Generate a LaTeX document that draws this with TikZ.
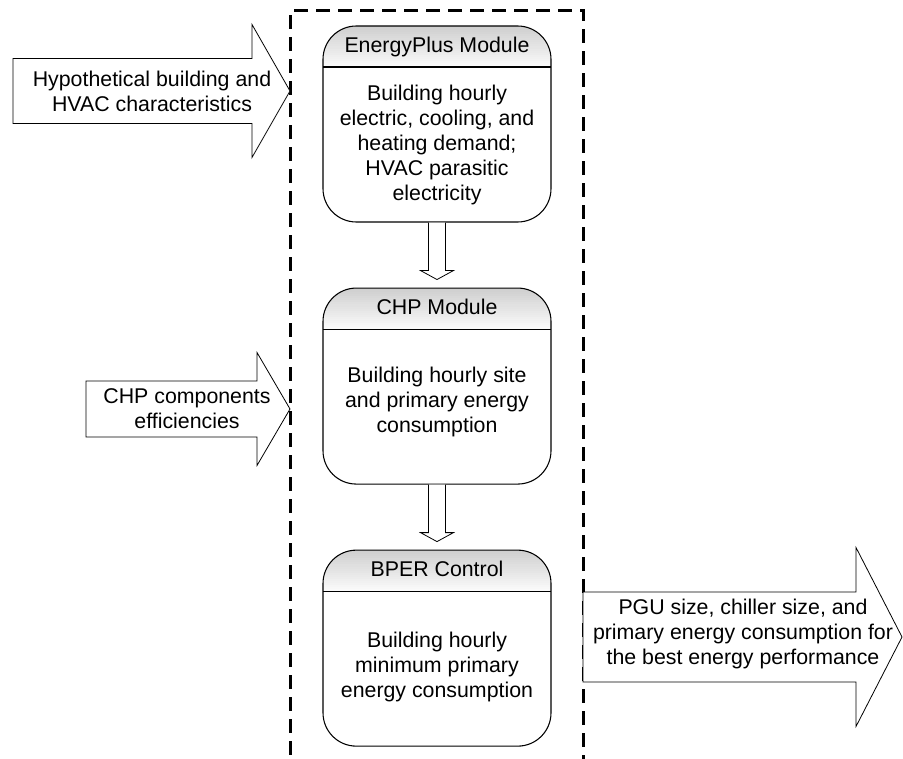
\documentclass[tikz,border=0pt]{standalone}
\usepackage{fontspec}
\setmainfont{Liberation Sans}
\usetikzlibrary{calc, fit, positioning}

% block arrow: tail x, head x, tip x, mid y, body half, head half
\newcommand{\blockarrow}[6]{%
  \draw[bigarrow] (#1,#4-#5) -- (#2,#4-#5) -- (#2,#4-#6) -- (#3,#4)
    -- (#2,#4+#6) -- (#2,#4+#5) -- (#1,#4+#5) -- cycle;}
% hollow arrow from one module down to the next
\newcommand{\flowarrow}[2]{%
  \draw[bigarrow] ($(#1.south)+(-8.5,0)$) -- ($(#2.north)+(-8.5,-17)$)
    -- ($(#2.north)+(-16.5,-17)$) -- ($(#2.north)+(0,-8)$)
    -- ($(#2.north)+(16.5,-17)$) -- ($(#2.north)+(8.5,-17)$)
    -- ($(#1.south)+(8.5,0)$);}

\begin{document}
\begin{tikzpicture}[
        x=0.75pt, y=-0.75pt, % pixel grid, y downwards
        node distance=48.75pt, % gap between modules
        font=\fontsize{16}{18.75}\selectfont,
        modbox/.style={
            draw, line width=0.8pt, rounded corners=25pt,
            minimum width=171pt, minimum height=147pt,
            path picture={
                % header band, light grey fading to white
                \foreach \i [evaluate=\i as \g using 38-1.8*\i] in {0,...,19}
                    \fill[sharp corners, gray!\g]
                        ($(path picture bounding box.north west)+(0,-1.5375pt*\i)$) rectangle
                        ($(path picture bounding box.north east)+(0,-1.5375pt*\i-1.6pt)$);
                \draw[sharp corners, line width=0.8pt]
                    ($(path picture bounding box.north west)+(0,-30.75pt)$)
                    -- ($(path picture bounding box.north east)+(0,-30.75pt)$);
            }},
        modtitle/.style={inner sep=0pt, anchor=base},
        modtext/.style={align=center, inner sep=0pt},
        frame/.style={
            draw, line width=1.6pt, dash pattern=on 10.5pt off 6pt,
            inner xsep=24pt, inner ysep=11.25pt},
        bigarrow/.style={draw, fill=white, line width=0.6pt},
        arrowtext/.style={align=center, inner sep=0pt}
    ]
        \useasboundingbox (0,0) rectangle (903,759);

        % modules
        \node[modbox] (eplus) at (437,124) {};
        \node[modbox, below=of eplus] (chp) {};
        \node[modbox, below=of chp] (bper) {};

        \node[modtitle] (eplustitle) at ($(eplus.north)+(0,27)$) {EnergyPlus Module};
        \node[modtitle] (chptitle) at ($(chp.north)+(0,27)$) {CHP Module};
        \node[modtitle] (bpertitle) at ($(bper.north)+(0,27)$) {BPER Control};

        \node[modtext] (eplustext) at ($(eplus.center)+(0,20.5)$) {
        Building hourly\\
        electric, cooling, and\\
        heating demand;\\
        HVAC parasitic\\
        electricity};
        \node[modtext] (chptext) at ($(chp.center)+(0,16)$) {
        Building hourly site\\
        and primary energy\\
        consumption};
        \node[modtext] (bpertext) at ($(bper.center)+(0,19)$) {
        Building hourly\\
        minimum primary\\
        energy consumption};

        \flowarrow{eplus}{chp}
        \flowarrow{chp}{bper}

        % dashed frame round the modules
        \node[frame, fit=(eplus)(bper)] (frame) {};

        % inputs and output
        \blockarrow{13}{252}{290}{91}{32.5}{66.5}
        \blockarrow{86}{257}{290}{409}{28}{56.5}
        \blockarrow{583}{856}{902}{637}{45}{89.5}

        \node[arrowtext] (hvacin) at (152,91) {
        Hypothetical building and\\
        HVAC characteristics};
        \node[arrowtext] (effin) at (187,409) {
        CHP components\\
        efficiencies};
        \node[arrowtext] (result) at (743,634) {
        PGU size, chiller size, and\\
        primary energy consumption for\\
        the best energy performance};
    \end{tikzpicture}
\end{document}
